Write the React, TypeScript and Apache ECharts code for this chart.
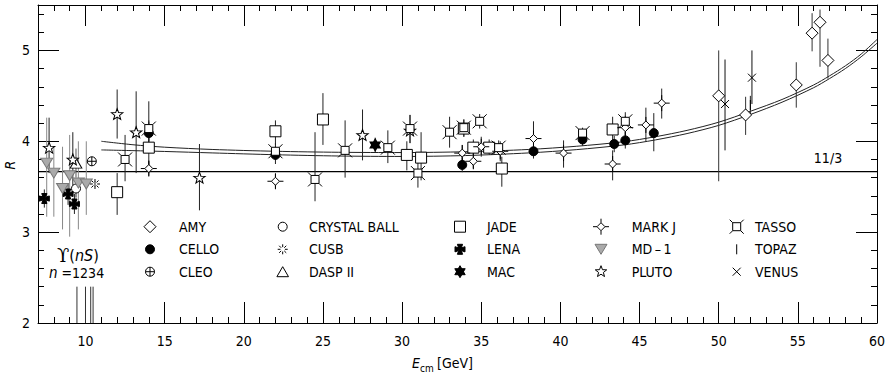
import React, { useEffect, useRef } from "react";
import * as echarts from "echarts";

const FONT = "'Liberation Sans Narrow', 'DejaVu Sans Condensed', 'Arial Narrow', sans-serif";
const FS = 14;

// Each point: [E_cm (GeV), R, lower end of error bar, upper end of error bar]
const amyPoints = [
  [50.0, 4.5, 3.56, 5.0], [51.7, 4.29, 4.07, 4.49], [54.9, 4.62, 4.37, 4.87],
  [55.9, 5.19, 4.99, 5.41], [56.4, 5.31, 4.82, 5.45], [56.9, 4.89, 4.69, 5.13],
];
const celloPoints = [
  [14.0, 4.09, 3.95, 4.23], [22.0, 3.85, 3.75, 3.95], [33.8, 3.74, 3.66, 3.82],
  [38.3, 3.89, 3.81, 3.97], [41.4, 4.02, 3.95, 4.09], [43.4, 3.97, 3.88, 4.06],
  [44.1, 4.01, 3.92, 4.1], [45.9, 4.09, 3.89, 4.31],
];
const cleoPoints = [[10.4, 3.78, 3.74, 3.82]];
const crystalBallPoints = [[9.4, 3.48, 3.38, 3.58]];
const cusbPoints = [[10.6, 3.53, 3.5, 3.56]];
const daspPoints = [[9.4, 3.76, 3.6, 3.92]];
const jadePoints = [
  [12.0, 3.44, 3.19, 3.65], [14.0, 3.93, 3.65, 4.21], [22.0, 4.11, 3.96, 4.23],
  [25.0, 4.24, 3.96, 4.53], [30.3, 3.85, 3.68, 4.0], [31.2, 3.82, 3.57, 4.1],
  [33.9, 4.14, 4.05, 4.24], [34.5, 3.93, 3.85, 4.02], [35.5, 3.93, 3.85, 4.02],
  [36.3, 3.7, 3.5, 3.83], [43.3, 4.13, 3.99, 4.27],
];
const lenaPoints = [[7.4, 3.37, 3.27, 3.47], [8.9, 3.42, 3.3, 3.54], [9.3, 3.31, 3.2, 3.42]];
const macPoints = [[28.3, 3.96, 3.88, 4.04]];
const markJPoints = [
  [14.0, 3.7, 3.62, 3.78], [22.0, 3.56, 3.48, 3.64], [33.8, 3.87, 3.78, 3.96],
  [34.5, 3.78, 3.7, 3.86], [35.0, 3.94, 3.83, 4.05], [36.2, 3.89, 3.78, 4.0],
  [38.3, 4.03, 3.87, 4.22], [40.2, 3.87, 3.71, 4.01], [43.3, 3.75, 3.57, 3.9],
  [44.1, 4.15, 4.02, 4.28], [45.4, 4.18, 4.0, 4.37], [46.4, 4.42, 4.25, 4.58],
];
const md1Points = [
  [7.55, 3.76, 3.17, 4.26], [8.0, 3.65, 3.17, 3.94], [8.55, 3.48, 3.03, 3.94],
  [9.0, 3.62, 2.95, 4.07], [9.55, 3.54, 3.03, 4.0], [10.05, 3.53, 3.19, 4.0],
];
const plutoPoints = [
  [7.7, 3.93, 3.65, 4.26], [9.2, 3.8, 3.5, 4.1], [12.0, 4.3, 4.03, 4.57],
  [13.2, 4.1, 3.65, 4.55], [17.2, 3.6, 3.24, 3.97], [27.5, 4.07, 3.79, 4.35],
  [30.5, 4.12, 3.98, 4.29],
];
const tassoPoints = [
  [12.5, 3.8, 3.56, 4.07], [14.0, 4.14, 4.0, 4.44], [22.0, 3.89, 3.8, 3.98],
  [24.5, 3.58, 3.34, 4.1], [26.4, 3.9, 3.6, 4.23], [29.1, 3.93, 3.76, 4.12],
  [30.5, 4.14, 3.98, 4.29], [31.0, 3.65, 3.49, 3.8], [33.0, 4.1, 3.93, 4.27],
  [33.9, 4.15, 4.05, 4.24], [34.9, 4.22, 4.14, 4.3], [36.1, 3.93, 3.85, 4.01],
  [41.4, 4.09, 4.03, 4.15], [44.1, 4.22, 4.12, 4.32],
];
const topazPoints = [[52.0, 4.4, 4.3, 4.5]];
const venusPoints = [[50.4, 4.41, 3.9, 4.9], [52.1, 4.7, 4.41, 5.0]];

// Upsilon(nS) resonance positions (drawn as short vertical lines from R = 2)
const upsilonE = [9.46, 10.0, 10.33, 10.48];
const upsilonTop = 2.4;

// QCD predictions (two curves)
const qcdE = [11, 13, 15, 18, 22, 26, 30, 34, 38, 41, 44, 46, 48, 50, 52, 54, 56, 57, 58, 59, 60];
const qcdUpper = [4.0, 3.962, 3.935, 3.91, 3.89, 3.879, 3.876, 3.885, 3.91, 3.945, 3.995, 4.05, 4.12, 4.21, 4.33, 4.46, 4.62, 4.72, 4.83, 4.96, 5.12];
const qcdLower = [3.905, 3.897, 3.888, 3.872, 3.852, 3.838, 3.833, 3.843, 3.872, 3.908, 3.96, 4.015, 4.085, 4.175, 4.295, 4.43, 4.59, 4.69, 4.8, 4.93, 5.08];

const partonR = 11 / 3;
const xRange = [7, 60];
const yRange = [2, 5.5];
const xLabels = [10, 15, 20, 25, 30, 35, 40, 45, 50, 55, 60];
const yLabels = [2, 3, 4, 5];

// ---- marker shapes (pixel units, centred on 0,0) ----
const circ = (r: number) => `M${-r},0A${r},${r} 0 1 0 ${r},0A${r},${r} 0 1 0 ${-r},0Z`;
const SHAPES: Record<string, { d: string; w: number; h: number }> = {
  diamond: { d: "M0,-6L6,0L0,6L-6,0Z", w: 12, h: 12 },
  dot: { d: circ(4.5), w: 9, h: 9 },
  cplus: { d: circ(4.5) + "M-4.5,0L4.5,0M0,-4.5L0,4.5", w: 9, h: 9 },
  ring: { d: circ(4.5), w: 9, h: 9 },
  cusb: {
    d: "M2.2,0L5,0M1.56,1.56L3.54,3.54M0,2.2L0,5M-1.56,1.56L-3.54,3.54M-2.2,0L-5,0M-1.56,-1.56L-3.54,-3.54M0,-2.2L0,-5M1.56,-1.56L3.54,-3.54",
    w: 10, h: 10,
  },
  triUp: { d: "M0,-5L5.8,5L-5.8,5Z", w: 11.6, h: 10 },
  square: { d: "M-5.5,-5.5L5.5,-5.5L5.5,5.5L-5.5,5.5Z", w: 11, h: 11 },
  lena: {
    d: "M-1.3,-1.3L-2.6,-5L2.6,-5L1.3,-1.3L5,-2.6L5,2.6L1.3,1.3L2.6,5L-2.6,5L-1.3,1.3L-5,2.6L-5,-2.6Z",
    w: 10, h: 10,
  },
  mac: { d: "M0,-6L5.2,3L-5.2,3ZM0,6L-5.2,-3L5.2,-3Z", w: 10.4, h: 12 },
  markj: { d: "M0,-4L4,0L0,4L-4,0ZM0,-4L0,-8M4,0L8,0M0,4L0,8M-4,0L-8,0", w: 16, h: 16 },
  triDown: { d: "M-6,-5L6,-5L0,5Z", w: 12, h: 10 },
  star: {
    d: "M0,-6L1.47,-2.02L5.71,-1.85L2.38,0.77L3.53,4.85L0,2.5L-3.53,4.85L-2.38,0.77L-5.71,-1.85L-1.47,-2.02Z",
    w: 11.42, h: 10.85,
  },
  tasso: { d: "M-4,-4L4,-4L4,4L-4,4ZM-4,-4L-7,-7M4,-4L7,-7M4,4L7,7M-4,4L-7,7", w: 14, h: 14 },
  venus: { d: "M-4,-4L4,4M4,-4L-4,4", w: 8, h: 8 },
};

type Exp = { name: string; pts: number[][]; shape: string; fill: string; stroke: string; bar: string };
const experiments: Exp[] = [
  { name: "AMY", pts: amyPoints, shape: "diamond", fill: "#fff", stroke: "#000", bar: "#333" },
  { name: "CELLO", pts: celloPoints, shape: "dot", fill: "#000", stroke: "#000", bar: "#222" },
  { name: "CLEO", pts: cleoPoints, shape: "cplus", fill: "#fff", stroke: "#000", bar: "#222" },
  { name: "CRYSTAL BALL", pts: crystalBallPoints, shape: "ring", fill: "#fff", stroke: "#000", bar: "#222" },
  { name: "CUSB", pts: cusbPoints, shape: "cusb", fill: "#fff", stroke: "#000", bar: "#222" },
  { name: "DASP II", pts: daspPoints, shape: "triUp", fill: "#fff", stroke: "#000", bar: "#555" },
  { name: "JADE", pts: jadePoints, shape: "square", fill: "#fff", stroke: "#000", bar: "#222" },
  { name: "LENA", pts: lenaPoints, shape: "lena", fill: "#000", stroke: "#000", bar: "#222" },
  { name: "MAC", pts: macPoints, shape: "mac", fill: "#000", stroke: "#000", bar: "#222" },
  { name: "MARK J", pts: markJPoints, shape: "markj", fill: "#fff", stroke: "#000", bar: "#222" },
  { name: "MD\u2009\u2013\u20091", pts: md1Points, shape: "triDown", fill: "#aaa", stroke: "#777", bar: "#888" },
  { name: "PLUTO", pts: plutoPoints, shape: "star", fill: "#fff", stroke: "#000", bar: "#222" },
  { name: "TASSO", pts: tassoPoints, shape: "tasso", fill: "#fff", stroke: "#000", bar: "#222" },
  { name: "TOPAZ", pts: topazPoints, shape: "bar", fill: "#000", stroke: "#000", bar: "#222" },
  { name: "VENUS", pts: venusPoints, shape: "venus", fill: "#fff", stroke: "#000", bar: "#111" },
];

let registered = false;
function registerShapes() {
  if (registered) return;
  registered = true;
  Object.keys(SHAPES).forEach((k) => {
    echarts.graphic.registerShape("mk_" + k, echarts.graphic.extendPath(SHAPES[k].d, {}) as any);
  });
}

const legendIconX = [150, 282.7, 460, 601, 736.7];
const legendTextX = [179, 309, 487, 631.7, 755];
const legendRowY = [226.7, 249.3, 271.7];

function vBar(color: string) {
  return (params: any, api: any) => {
    const p1 = api.coord([api.value(0), api.value(1)]);
    const p2 = api.coord([api.value(0), api.value(2)]);
    return {
      type: "line",
      shape: { x1: p1[0], y1: p1[1], x2: p2[0], y2: p2[1] },
      style: { stroke: color, lineWidth: 1 },
    };
  };
}

export default function App() {
  const ref = useRef<HTMLDivElement>(null);
  useEffect(() => {
    if (!ref.current) return;
    registerShapes();
    const chart = echarts.init(ref.current, undefined, { renderer: "svg" });

    const gl = 38, gr = 12, gt = 5, gb = 52;
    const plotW = 889 - gl - gr;
    const gl1 = gl + ((10 - xRange[0]) / (xRange[1] - xRange[0])) * plotW;

    const axisLineStyle = { color: "#000", width: 1 };
    const tickStyle = { color: "#000", width: 1 };

    const series: any[] = [];
    series.push({
      type: "line", xAxisIndex: 0, yAxisIndex: 0, z: 1, silent: true,
      data: [[xRange[0], partonR], [xRange[1], partonR]], showSymbol: false,
      lineStyle: { color: "#000", width: 1.2 },
    });
    series.push({
      type: "line", xAxisIndex: 0, yAxisIndex: 0, z: 1, silent: true, smooth: 0.3,
      data: qcdE.map((e, i) => [e, qcdUpper[i]]), showSymbol: false,
      lineStyle: { color: "#222", width: 1 },
    });
    series.push({
      type: "line", xAxisIndex: 0, yAxisIndex: 0, z: 1, silent: true, smooth: 0.3,
      data: qcdE.map((e, i) => [e, qcdLower[i]]), showSymbol: false,
      lineStyle: { color: "#222", width: 1 },
    });
    series.push({
      type: "custom", xAxisIndex: 0, yAxisIndex: 0, z: 2, silent: true, clip: true,
      data: upsilonE.map((e) => [e, yRange[0], upsilonTop]),
      renderItem: vBar("#333"),
    });
    experiments.forEach((ex) => {
      series.push({
        type: "custom", name: ex.name + " err", xAxisIndex: 0, yAxisIndex: 0, z: 2, silent: true, clip: true,
        data: ex.pts.map((p) => [p[0], p[2], p[3]]),
        renderItem: vBar(ex.bar),
      });
    });
    experiments.forEach((ex) => {
      const s = SHAPES[ex.shape];
      const isBar = ex.shape === "bar";
      series.push({
        type: "scatter", name: ex.name, xAxisIndex: 0, yAxisIndex: 0, z: 3, silent: true,
        data: ex.pts.map((p) => [p[0], p[1]]),
        symbol: isBar ? "rect" : "path://" + s.d,
        symbolSize: isBar ? [1, 10] : [s.w, s.h],
        itemStyle: { color: ex.fill, borderColor: ex.stroke, borderWidth: isBar ? 0 : 1, opacity: 1 },
      });
    });

    const graphics: any[] = [];
    experiments.forEach((ex, i) => {
      const col = Math.floor(i / 3), row = i % 3;
      const cx = legendIconX[col], cy = legendRowY[row];
      if (ex.shape === "bar") {
        graphics.push({ type: "line", shape: { x1: cx, y1: cy - 5, x2: cx, y2: cy + 5 }, style: { stroke: "#000", lineWidth: 1 } });
      } else {
        graphics.push({
          type: "mk_" + ex.shape, x: cx, y: cy,
          style: { fill: ex.fill, stroke: ex.stroke, lineWidth: 1 },
        });
      }
      graphics.push({
        type: "text", x: legendTextX[col], y: cy,
        style: { text: ex.name, fontSize: FS, fontFamily: FONT, fill: "#000", align: "left", verticalAlign: "middle" },
      });
    });
    graphics.push({
      type: "text", x: 828, y: 157.5,
      style: { text: "11/3", fontSize: FS, fontFamily: FONT, fill: "#000", align: "center", verticalAlign: "middle" },
    });
    graphics.push({
      type: "text", x: 10, y: 165, rotation: Math.PI / 2,
      style: { text: "R", fontSize: FS, fontStyle: "italic", fontFamily: FONT, fill: "#000", align: "center", verticalAlign: "middle" },
    });
    graphics.push({
      type: "text", x: 412, y: 363,
      style: { text: "E", fontSize: FS, fontStyle: "italic", fontFamily: FONT, fill: "#000", align: "left", verticalAlign: "middle" },
    });
    graphics.push({
      type: "text", x: 420, y: 368,
      style: { text: "cm", fontSize: 10, fontFamily: FONT, fill: "#000", align: "left", verticalAlign: "middle" },
    });
    graphics.push({
      type: "text", x: 437, y: 363,
      style: { text: "[GeV]", fontSize: FS, fontFamily: FONT, fill: "#000", align: "left", verticalAlign: "middle" },
    });
    graphics.push({
      type: "text", x: 57, y: 255,
      style: {
        text: "{u|\u03D2}{p|(}{i|nS}{p|)}", align: "left", verticalAlign: "middle",
        rich: {
          u: { fontSize: 18, fontFamily: "'DejaVu Serif', serif", fill: "#000" },
          p: { fontSize: 16, fontFamily: FONT, fill: "#000" },
          i: { fontSize: 16, fontFamily: FONT, fontStyle: "italic", fill: "#000" },
        },
      },
    });
    graphics.push({
      type: "text", x: 49, y: 273,
      style: {
        text: "{i|n} =1234", align: "left", verticalAlign: "middle", fontSize: 14, fontFamily: FONT, fill: "#000",
        rich: { i: { fontSize: 15, fontFamily: FONT, fontStyle: "italic", fill: "#000" } },
      },
    });

    const hidden = { show: false };
    chart.setOption({
      animation: false,
      backgroundColor: "#fff",
      grid: [
        { left: gl, right: gr, top: gt, bottom: gb },
        { left: gl1, right: gr, top: gt, bottom: gb },
      ],
      xAxis: [
        {
          type: "value", gridIndex: 0, min: xRange[0], max: xRange[1], interval: 1, position: "bottom",
          axisLine: { show: true, onZero: false, lineStyle: axisLineStyle },
          axisTick: { show: true, inside: true, length: 6, lineStyle: tickStyle },
          axisLabel: {
            show: true, margin: 11, fontSize: FS, fontFamily: FONT, color: "#000",
            formatter: (v: number) => (xLabels.some((l) => Math.abs(l - v) < 1e-6) ? String(Math.round(v)) : ""),
          },
          splitLine: hidden,
        },
        {
          type: "value", gridIndex: 0, min: xRange[0], max: xRange[1], interval: 1, position: "top",
          axisLine: { show: true, onZero: false, lineStyle: axisLineStyle },
          axisTick: { show: true, inside: true, length: 6, lineStyle: tickStyle },
          axisLabel: hidden, splitLine: hidden,
        },
        {
          type: "value", gridIndex: 1, min: 10, max: xRange[1], interval: 5, position: "bottom",
          axisLine: { show: false, onZero: false },
          axisTick: { show: true, inside: true, length: 21, lineStyle: tickStyle },
          axisLabel: hidden, splitLine: hidden,
        },
        {
          type: "value", gridIndex: 1, min: 10, max: xRange[1], interval: 5, position: "top",
          axisLine: { show: false, onZero: false },
          axisTick: { show: true, inside: true, length: 21, lineStyle: tickStyle },
          axisLabel: hidden, splitLine: hidden,
        },
      ],
      yAxis: [
        {
          type: "value", gridIndex: 0, min: yRange[0], max: yRange[1], interval: 0.2, position: "left",
          axisLine: { show: true, onZero: false, lineStyle: axisLineStyle },
          axisTick: { show: true, inside: true, length: 6, lineStyle: tickStyle },
          axisLabel: {
            show: true, margin: 8, fontSize: FS, fontFamily: FONT, color: "#000",
            formatter: (v: number) => (yLabels.some((l) => Math.abs(l - v) < 1e-6) ? String(Math.round(v)) : ""),
          },
          splitLine: hidden,
        },
        {
          type: "value", gridIndex: 0, min: yRange[0], max: yRange[1], interval: 1, position: "left", offset: 0,
          axisLine: { show: false, onZero: false },
          axisTick: { show: true, inside: true, length: 21, lineStyle: tickStyle },
          axisLabel: hidden, splitLine: hidden,
        },
        {
          type: "value", gridIndex: 0, min: yRange[0], max: yRange[1], interval: 0.2, position: "right", offset: 0,
          axisLine: { show: true, onZero: false, lineStyle: axisLineStyle },
          axisTick: { show: true, inside: true, length: 6, lineStyle: tickStyle },
          axisLabel: hidden, splitLine: hidden,
        },
        {
          type: "value", gridIndex: 0, min: yRange[0], max: yRange[1], interval: 1, position: "right", offset: 0,
          axisLine: { show: false, onZero: false },
          axisTick: { show: true, inside: true, length: 21, lineStyle: tickStyle },
          axisLabel: hidden, splitLine: hidden,
        },
        { type: "value", gridIndex: 1, min: yRange[0], max: yRange[1], show: false },
      ],
      series,
      graphic: graphics,
    });
    return () => chart.dispose();
  }, []);
  return <div ref={ref} style={{ position: "absolute", left: 0, top: 0, width: 889, height: 375 }} />;
}
